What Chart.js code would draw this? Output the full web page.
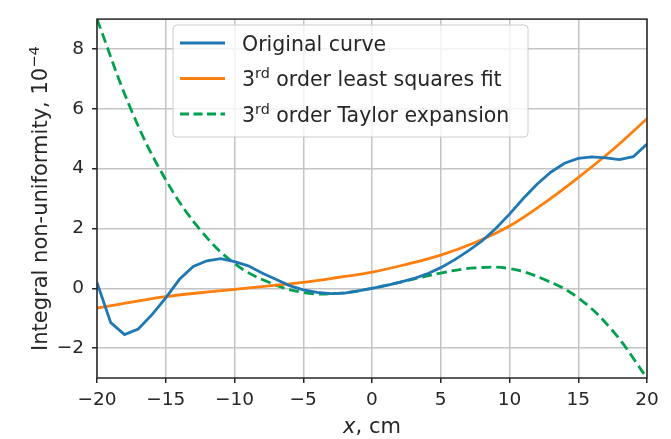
<!DOCTYPE html>
<html>
<head>
<meta charset="utf-8">
<script src="https://cdn.jsdelivr.net/npm/chart.js@4.4.0/dist/chart.umd.min.js"></script>
<style>
  body { margin: 0; background: #fff; }
</style>
</head>
<body>
<canvas id="nonUniformity" width="671" height="439"></canvas>
<script>
// Integral non-uniformity (units of 1e-4) along x, in cm
const xOriginal = [-20, -19, -18, -17, -16, -15, -14, -13, -12, -11, -10, -9, -8, -7, -6, -5, -4, -3, -2, -1,
  0, 1, 2, 3, 4, 5, 6, 7, 8, 9, 10, 11, 12, 13, 14, 15, 16, 17, 18, 19, 20];
const originalCurve = [0.19, -1.15, -1.55, -1.36, -0.88, -0.32, 0.30, 0.73, 0.92, 0.99, 0.89, 0.75, 0.51, 0.30, 0.09, -0.05, -0.14, -0.18, -0.16, -0.09,
  0.00, 0.09, 0.20, 0.32, 0.48, 0.69, 0.95, 1.25, 1.58, 2.00, 2.48, 3.00, 3.48, 3.88, 4.18, 4.34, 4.39, 4.36, 4.30, 4.40, 4.82];

const xSmooth = [-20, -17.5, -15, -12.5, -10, -7.5, -5, -2.5, 0, 2.5, 5, 7.5, 10, 12.5, 15, 17.5, 20];
const leastSquaresFit = [-0.66, -0.46, -0.28, -0.15, -0.04, 0.08, 0.20, 0.36, 0.54, 0.80, 1.11, 1.53, 2.08, 2.84, 3.70, 4.63, 5.67];
const taylorExpansion = [9.0, 5.95, 3.63, 1.96, 0.83, 0.20, -0.14, -0.17, 0.00, 0.25, 0.51, 0.68, 0.66, 0.30, -0.32, -1.42, -3.0];

const xTicks = [-20, -15, -10, -5, 0, 5, 10, 15, 20];
const yTicks = [-2, 0, 2, 4, 6, 8];

const BLUE = '#1f77b4';
const ORANGE = '#ff7f0e';
const GREEN = '#00a04e';
const INK = '#262626';
const FONT = "'DejaVu Sans', sans-serif";

function pairs(xs, ys) {
  return xs.map(function (x, i) { return { x: x, y: ys[i] }; });
}

function minusSign(v) {
  return String(v).replace('-', '\u2212');
}

// Draws a row of text pieces, some of them raised as superscripts.
function drawParts(ctx, x, y, parts, size) {
  parts.forEach(function (p) {
    const s = p.sup ? size * 0.7 : size;
    ctx.font = s + 'px ' + FONT;
    ctx.fillText(p.text, x, p.sup ? y - size * 0.38 : y);
    x += ctx.measureText(p.text).width;
  });
}

function partsWidth(ctx, parts, size) {
  let w = 0;
  parts.forEach(function (p) {
    ctx.font = (p.sup ? size * 0.7 : size) + 'px ' + FONT;
    w += ctx.measureText(p.text).width;
  });
  return w;
}

const legendRows = [
  { color: BLUE, dash: [], parts: [{ text: 'Original curve' }] },
  { color: ORANGE, dash: [], parts: [{ text: '3' }, { text: 'rd', sup: true }, { text: ' order least squares fit' }] },
  { color: GREEN, dash: [9, 4.5], parts: [{ text: '3' }, { text: 'rd', sup: true }, { text: ' order Taylor expansion' }] }
];

const decorations = {
  id: 'decorations',
  afterDatasetsDraw(chart) {
    const ctx = chart.ctx;
    const a = chart.chartArea;
    ctx.save();
    ctx.strokeStyle = INK;
    ctx.lineWidth = 1.5;
    ctx.strokeRect(a.left, a.top, a.right - a.left, a.bottom - a.top);
    ctx.restore();
  },
  afterDraw(chart) {
    const ctx = chart.ctx;
    const a = chart.chartArea;
    ctx.save();
    ctx.fillStyle = INK;
    ctx.textBaseline = 'alphabetic';
    ctx.textAlign = 'left';

    // x axis title, with an italic x
    ctx.font = 'italic 21px ' + FONT;
    const xw = ctx.measureText('x').width;
    ctx.font = '21px ' + FONT;
    const restW = ctx.measureText(', cm').width;
    const cx = (a.left + a.right) / 2 - (xw + restW) / 2;
    ctx.font = 'italic 21px ' + FONT;
    ctx.fillText('x', cx, 433);
    ctx.font = '21px ' + FONT;
    ctx.fillText(', cm', cx + xw, 433);

    // y axis title
    const yParts = [{ text: 'Integral non-uniformity, 10' }, { text: '\u22124', sup: true }];
    const yw = partsWidth(ctx, yParts, 21);
    ctx.save();
    ctx.translate(47, (a.top + a.bottom) / 2);
    ctx.rotate(-Math.PI / 2);
    drawParts(ctx, -yw / 2, 0, yParts, 21);
    ctx.restore();

    // legend box
    const bx = 173, by = 25, bw = 355, bh = 112, r = 4;
    ctx.beginPath();
    ctx.moveTo(bx + r, by);
    ctx.arcTo(bx + bw, by, bx + bw, by + bh, r);
    ctx.arcTo(bx + bw, by + bh, bx, by + bh, r);
    ctx.arcTo(bx, by + bh, bx, by, r);
    ctx.arcTo(bx, by, bx + bw, by, r);
    ctx.closePath();
    ctx.fillStyle = 'rgba(255,255,255,0.8)';
    ctx.fill();
    ctx.strokeStyle = '#cccccc';
    ctx.lineWidth = 1;
    ctx.stroke();

    legendRows.forEach(function (row, i) {
      const ly = 43 + i * 35.5;
      ctx.beginPath();
      ctx.setLineDash(row.dash);
      ctx.strokeStyle = row.color;
      ctx.lineWidth = 2.8;
      ctx.moveTo(180, ly);
      ctx.lineTo(225, ly);
      ctx.stroke();
      ctx.setLineDash([]);
      ctx.fillStyle = INK;
      drawParts(ctx, 242, ly + 7.5, row.parts, 20.5);
    });
    ctx.restore();
  }
};

const ctx = document.getElementById('nonUniformity').getContext('2d');
const chart = new Chart(ctx, {
  type: 'line',
  data: {
    datasets: [{
      label: 'Original curve',
      data: pairs(xOriginal, originalCurve),
      borderColor: BLUE,
      borderWidth: 2.8,
      tension: 0,
      pointRadius: 0
    }, {
      label: '3rd order least squares fit',
      data: pairs(xSmooth, leastSquaresFit),
      borderColor: ORANGE,
      borderWidth: 2.8,
      tension: 0.4,
      pointRadius: 0
    }, {
      label: '3rd order Taylor expansion',
      data: pairs(xSmooth, taylorExpansion),
      borderColor: GREEN,
      borderWidth: 2.8,
      borderDash: [10, 5],
      tension: 0.4,
      pointRadius: 0
    }]
  },
  options: {
    responsive: false,
    animation: false,
    clip: 0,
    layout: { padding: { left: 0, top: 7, right: 24, bottom: 0 } },
    plugins: {
      legend: { display: false },
      tooltip: { enabled: false }
    },
    scales: {
      x: {
        type: 'linear',
        min: -20,
        max: 20,
        afterBuildTicks: function (scale) {
          scale.ticks = xTicks.map(function (v) { return { value: v }; });
        },
        afterFit: function (scale) { scale.height = 61; },
        grid: { color: '#c4c4c4', lineWidth: 1.5, tickColor: INK, tickLength: 5, tickWidth: 1.5 },
        border: { display: false },
        ticks: {
          color: INK,
          padding: 6,
          maxRotation: 0,
          font: { family: FONT, size: 18.5 },
          callback: minusSign
        }
      },
      y: {
        min: -3,
        max: 9,
        afterBuildTicks: function (scale) {
          scale.ticks = yTicks.map(function (v) { return { value: v }; });
        },
        afterFit: function (scale) { scale.width = 97; },
        grid: { color: '#c4c4c4', lineWidth: 1.5, tickColor: INK, tickLength: 5, tickWidth: 1.5 },
        border: { display: false },
        ticks: {
          color: INK,
          padding: 8,
          font: { family: FONT, size: 18.5 },
          callback: minusSign
        }
      }
    }
  },
  plugins: [decorations]
});
</script>
</body>
</html>
